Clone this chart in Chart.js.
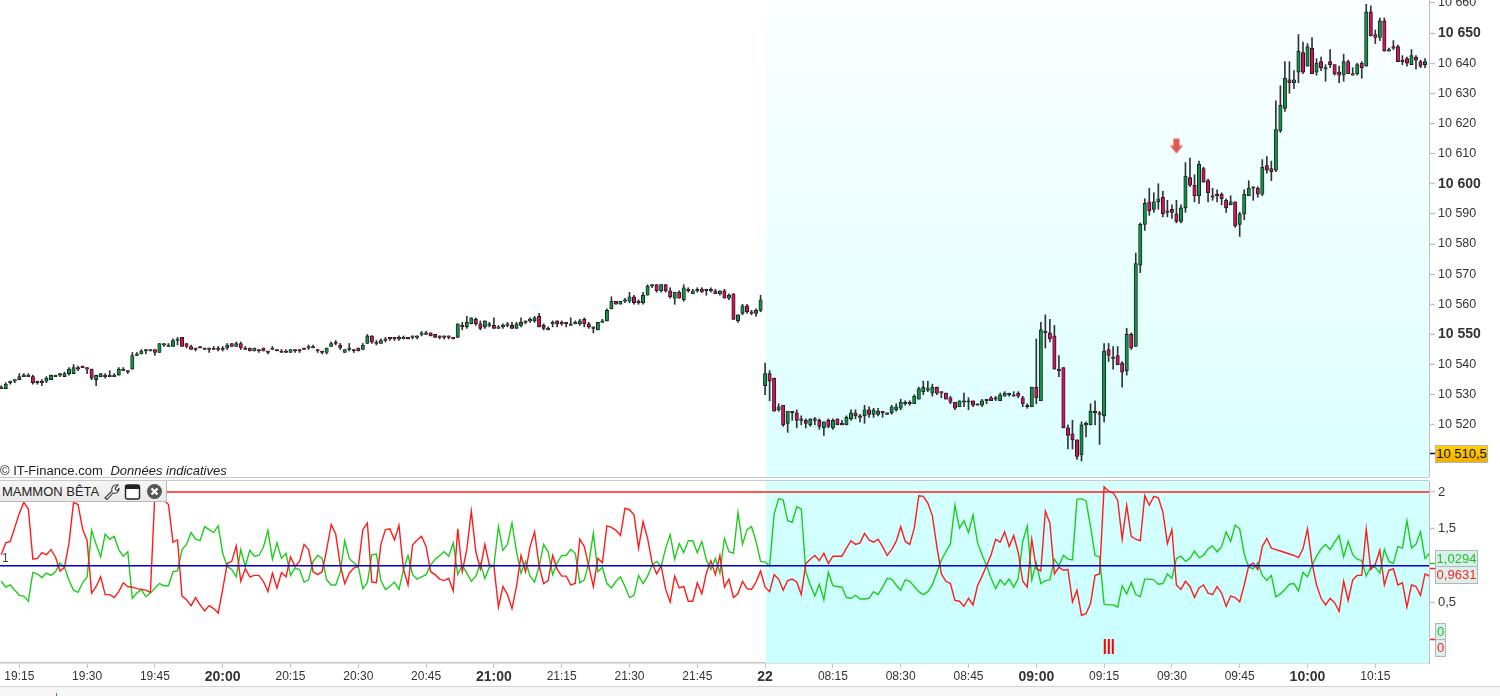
<!DOCTYPE html>
<html>
<head>
<meta charset="utf-8">
<title>MAMMON BÊTA</title>
<script src="https://cdn.jsdelivr.net/npm/chart.js@4"></script>
<style>
  html, body { margin: 0; padding: 0; background: #fff; overflow: hidden; }
  body { width: 1500px; height: 696px; position: relative; font-family: "Liberation Sans", Arial, sans-serif; color: #222; }
  canvas { position: absolute; left: 0; display: block; }
  #prixCanvas { top: 0; }
  #betaCanvas { top: 481px; }
  .abs { position: absolute; white-space: nowrap; }
  .rule { position: absolute; left: 0; width: 1429px; height: 1px; background: #c9c9c9; }
  #source { left: 0; top: 463px; font-size: 13px; line-height: 15px; color: #222; }
  #source i { margin-left: 4px; }
  #panneau { left: 0; top: 481px; width: 164px; height: 20px; background: linear-gradient(#f6f6f6, #e9e9e9); border-right: 1px solid #b9b9b9; border-bottom: 1px solid #b9b9b9; font-size: 13px; line-height: 21px; padding-left: 2px; box-sizing: content-box; }
  #panneau svg { position: absolute; top: 2px; }
  #un { left: 2px; top: 551px; font-size: 12px; color: #444; }
  .boite { position: absolute; box-sizing: border-box; border: 1px solid #b5b5b5; background: #d9efec; font-size: 13px; text-align: center; }
  #dernier { left: 1435px; top: 445px; width: 53px; height: 18px; line-height: 16px; background: linear-gradient(#ffd000, #f2ae00); color: #111; font-size: 13px; }
  #vert1 { left: 1435px; top: 550px; width: 43px; height: 17px; line-height: 15px; color: #1fbf1f; }
  #rouge1 { left: 1435px; top: 566px; width: 43px; height: 18px; line-height: 16px; color: #f22; }
  #vert0 { left: 1435px; top: 623px; width: 11px; height: 17px; line-height: 15px; color: #1fbf1f; }
  #rouge0 { left: 1435px; top: 639px; width: 11px; height: 18px; line-height: 16px; color: #f22; }
  #pied { position: absolute; left: 0; top: 686px; width: 1500px; height: 10px; background: #f7f7f7; border-top: 1px solid #cfcfcf; box-sizing: border-box; }
  #pied div { position: absolute; left: 56px; top: 6px; width: 1px; height: 3px; background: #2a2; }
</style>
</head>
<body>
<canvas id="prixCanvas" width="1500" height="477"></canvas>
<div class="rule" style="top:477px"></div>
<div class="rule" style="top:480px"></div>
<canvas id="betaCanvas" width="1500" height="205"></canvas>
<div id="pied"><div></div></div>

<div id="source" class="abs">© IT-Finance.com <i>Données indicatives</i></div>
<div id="panneau" class="abs">MAMMON BÊTA
  <svg style="left:103px" width="17" height="17" viewBox="0 0 17 17"><path d="M2 15 L9 8 C8 4 11 1 15 2 L12 5 L13 7 L15 7.5 L16 5 C16.5 9 13 11 10 10 L4 16.5 Z" fill="#fff" stroke="#333" stroke-width="1.1"/></svg>
  <svg style="left:124px" width="17" height="17" viewBox="0 0 17 17"><rect x="1.5" y="2" width="14" height="14" rx="2" fill="#fff" stroke="#222" stroke-width="1.4"/><rect x="1.5" y="2" width="14" height="4" fill="#222"/></svg>
  <svg style="left:146px" width="17" height="17" viewBox="0 0 17 17"><circle cx="8.5" cy="8.5" r="7.5" fill="#555"/><path d="M5.5 5.5 L11.5 11.5 M11.5 5.5 L5.5 11.5" stroke="#fff" stroke-width="2.4"/></svg>
</div>
<div id="un" class="abs">1</div>
<div id="dernier" class="boite">10 510,5</div>
<div id="vert1" class="boite">1,0294</div>
<div id="rouge1" class="boite">0,9631</div>
<div id="vert0" class="boite">0</div>
<div id="rouge0" class="boite">0</div>

<script>
// ---- DATOS ----
// una vela por minuto: el indice 0 es la vela de las 19:15
const primeraVela = -4;
const inicioSesion = 165.2;

const opens = [
10532,10532,10534,10534.5,10535,10536,10536,10536,10534.5,10534.5,
10534.5,10535,10536,10536.5,10536,10537,10537,10539,10539.5,10539,
10538.5,10535,10536,10536.5,10536,10536,10536.5,10538,10538,10538.5,
10543,10543.5,10544.5,10544.5,10545,10544,10546.5,10546,10546,10548,
10549,10547,10546,10545.5,10546,10545.5,10545.5,10545.5,10545.5,10545.5,
10545.5,10547,10546,10547,10545.5,10545.5,10544.5,10545,10545.5,10544.5,
10545,10545,10544.5,10544.5,10544,10545,10545,10545.5,10546,10545.5,
10545,10544.5,10544,10546,10547.5,10546.5,10544,10545,10545,10545.5,
10545,10547,10549.5,10547.5,10547,10548.5,10549,10549,10549,
10548.5,10549,10549,10549,10550,10550,10550.5,10550,10549.5,10549.5,
10549.5,10549,10549,10553,10552.5,10553.5,10555,10553.5,10552.5,10553,
10553,10552,10552.5,10553,10553,10552,10553,10554,10554.5,10554.5,
10556,10553,10551.5,10553.5,10554.5,10554,10554,10553,10553.5,10553.5,
10555,10553.5,10552.5,10551.5,10554,10554.5,10558.5,10561,10560,10561,
10561,10562.5,10561,10560.5,10563,10566,10566.5,10564.5,10566.5,10564.5,
10562,10564,10561.5,10565,10563.5,10564.5,10565,10565,10564.5,10564.5,
10563.5,10564.5,10562,10563.5,10554.5,10557,10559.5,10557.5,10557,10558,
10533,10537,10535.5,10525,10526.5,10520.5,10524,10524,10522,10521.5,
10520,10522,10521.5,10519,10521.5,10519,10522,10520.5,10520,10522,
10524,10523,10523,10525,10523.5,10523.5,10524.5,10524,10524,10525,
10525.5,10527,10527.5,10527,10528.5,10531,10531.5,10530.5,10532.5,10531,
10530.5,10529,10527.5,10526,10527.5,10527.5,10528,10527,10526.5,10528,
10529,10529,10528,10529.5,10530,10530,10530.5,10529,10526.5,10526,
10532.5,10528,10551,10550.5,10549.5,10538.5,10539,10519,10517,10515,
10510,10520,10520,10524.5,10524,10523,10545,10542.5,10543,
10540.5,10538,10550,10546,10573,10586.5,10594,10591.5,10594,10595.5,
10591,10591.5,10590,10587.5,10592,10602,10599.5,10596,10605,10601,
10596,10596.5,10596.5,10594.5,10593,10594,10586.5,10590,10596,10598.5,
10598.5,10596.5,10606,10605,10604.5,10617.5,10625,10634.5,10633.5,10637,
10643.5,10639,10645,10637,10640.5,10638,10640.5,10639.5,10637,10636,
10640.5,10636,10636.5,10640,10639,10657,10649.5,10648.5,10654,10644,
10645.5,10645.5,10641,10641.5,10639.5,10642,10640.5,10639.5
];
const closes = [
10532.5,10533.5,10534.5,10535,10536,10536.5,10536.5,10534,10534,10534,
10535.5,10536.5,10536.5,10537,10537,10538.5,10539,10538.5,10539,10538.5,
10535.5,10536.5,10537,10536,10536.5,10536.5,10538.5,10538.5,10537.5,10543,
10543.5,10544.5,10545,10545,10544,10547,10547,10546.5,10548,10548.5,
10546,10546,10545,10545,10545.5,10545,10545,10545,10545,10545,
10546.5,10546,10547,10545.5,10545,10544.5,10545.5,10544.5,10544.5,10544,
10545.5,10544.5,10544,10544,10545,10544.5,10544.5,10545,10545.5,10546,
10544.5,10544,10545.5,10547,10547,10545.5,10545,10545.5,10544.5,10544.5,
10546.5,10549.5,10547.5,10547,10548,10548,10548.5,10548.5,10548.5,
10549,10548.5,10549.5,10549.5,10550.5,10550.5,10549.5,10549,10549,10549,
10549,10548.5,10553.5,10552.5,10554,10555.5,10553.5,10552,10554.5,10553.5,
10552,10552.5,10553,10553.5,10552,10553.5,10554,10554.5,10555,10555.5,
10552.5,10552,10552,10554,10553.5,10553.5,10553.5,10553.5,10554,10554.5,
10553.5,10552.5,10552,10554,10554.5,10558,10561,10560,10561,10561.5,
10562.5,10560.5,10560.5,10563,10566,10566.5,10564.5,10566.5,10564.5,10562.5,
10564,10562,10565.5,10564.5,10564.5,10565,10564,10564.5,10565,10563.5,
10564.5,10562,10563,10555,10556.5,10559.5,10557.5,10557,10558,10561.5,
10537,10534.5,10524.5,10526,10520,10524.5,10524.5,10521.5,10521.5,10520.5,
10522,10521.5,10519.5,10521,10519.5,10521.5,10520,10520,10522.5,10524,
10523,10522.5,10525,10523.5,10525,10524.5,10524,10523.5,10526,10526,
10527.5,10527.5,10527,10529.5,10532,10532.5,10532,10532.5,10530.5,10530.5,
10528.5,10527.5,10525.5,10528,10528,10528,10526.5,10526.5,10528,10528.5,
10528,10528.5,10530,10530.5,10530.5,10529.5,10529.5,10527,10526,10532.5,
10529,10551.5,10550.5,10548.5,10538.5,10538,10519,10516.5,10515,10509.5,
10520,10520.5,10524.5,10524,10523.5,10544.5,10543,10542,10540,
10537.5,10550,10545.5,10573.5,10586.5,10593.5,10591,10594,10595,10590,
10590.5,10590.5,10587.5,10592,10602.5,10599.5,10596,10606.5,10600.5,10597,
10595.5,10596,10595,10592,10594,10586,10590,10596.5,10598.5,10599,
10596.5,10605.5,10604.5,10604,10618,10626,10635,10633.5,10634.5,10644,
10637,10645.5,10636.5,10640,10638.5,10638.5,10639.5,10636.5,10636,10640.5,
10636.5,10636.5,10639.5,10638.5,10657,10649,10648.5,10654,10644,10644.5,
10645,10640.5,10640.5,10640,10642.5,10641,10639,10640.5
];
const highs = [
10533,10534,10534.5,10535,10537,10537,10537,10536.5,10534.5,10535,
10536,10536.5,10536.5,10537,10537.5,10539,10540,10539.5,10539.5,10539,
10538.5,10536.5,10537,10537,10538,10537,10539,10539,10538,10544,
10544,10545,10545,10545,10545,10547,10547,10547,10548.5,10549,
10549,10547,10546.5,10545.5,10546,10545.5,10545.5,10546,10546,10546,
10547,10547,10547.5,10547.5,10546,10545.5,10545.5,10545,10545.5,10544.5,
10546,10545,10545,10545,10545,10545,10545,10545.5,10546.5,10546.5,
10545,10544.5,10545.5,10547.5,10548,10547,10545,10547,10545,10545.5,
10547,10550,10549.5,10548,10548.5,10549,10549,10549,10549.5,
10549.5,10549,10549.5,10549.5,10551,10551,10550.5,10550,10549.5,10549.5,
10549.5,10549,10553.5,10554,10556,10555.5,10555.5,10554.5,10554.5,10554,
10555.5,10553,10553.5,10554,10554,10554,10555.5,10554.5,10555.5,10556,
10557,10553.5,10552.5,10554.5,10554.5,10554.5,10554,10555.5,10554.5,10555,
10555.5,10554,10552.5,10554,10555,10558.5,10562.5,10561,10561,10562,
10564,10563,10561.5,10564,10566.5,10566.5,10566.5,10566.5,10566.5,10565.5,
10564,10564.5,10566.5,10565.5,10565,10565.5,10565.5,10565,10565.5,10565,
10564.5,10565,10563.5,10563.5,10556.5,10560,10560,10558,10558.5,10563,
10540.5,10538,10535.5,10527,10526.5,10524.5,10524.5,10525,10523,10522,
10522,10522.5,10522,10521,10522,10522,10522,10521.5,10523,10525,
10525,10523.5,10526.5,10526,10525.5,10525.5,10524.5,10524,10526.5,10527,
10528.5,10528,10528,10530,10532.5,10534.5,10534.5,10533.5,10532.5,10531,
10530.5,10529.5,10527.5,10528,10530.5,10529,10528,10527,10528.5,10528.5,
10529.5,10529.5,10530.5,10531,10530.5,10531,10531,10529.5,10527,10532.5,
10548.5,10554,10556.5,10555,10553,10543,10539,10520,10521.5,10515,
10521,10521,10527,10528,10524.5,10547,10547,10546,10546,
10541,10552,10550.5,10577,10587,10595,10598.5,10597,10600,10597.5,
10594.5,10593,10594.5,10593,10607,10608.5,10603,10607.5,10605.5,10601.5,
10598.5,10598,10597,10595,10596,10594,10590.5,10598,10601,10599,
10599,10608,10609,10607.5,10627.5,10632.5,10640.5,10640.5,10637.5,10649.5,
10647,10646.5,10648.5,10641.5,10642,10639.5,10644.5,10639.5,10639,10643,
10641,10638.5,10640,10640.5,10659.5,10659,10651,10655,10655,10645,
10647.5,10646,10642.5,10642,10644.5,10642.5,10641,10641.5
];
const lows = [
10532,10532,10533.5,10534,10535,10536,10536,10533.5,10533.5,10533,
10534,10535,10536,10536,10536,10536.5,10537,10538,10539,10537,
10535,10533,10536,10535.5,10536,10536,10536.5,10538,10537,10538.5,
10543,10543.5,10543.5,10544.5,10543,10544,10546,10546,10546,10546.5,
10546,10545.5,10545,10544.5,10545.5,10545,10544,10545,10544.5,10544.5,
10545,10546,10546,10545,10545,10544.5,10544.5,10544,10544.5,10543.5,
10545,10544.5,10544,10544,10544,10544,10544,10545,10545,10545.5,
10544,10543.5,10543.5,10546,10546.5,10545,10544,10544.5,10544,10544.5,
10545,10547,10547,10546.5,10547,10547.5,10548,10548,10548,
10548.5,10548.5,10548.5,10548.5,10549.5,10550,10549.5,10549,10548.5,10548.5,
10548.5,10548.5,10549,10551.5,10552,10553.5,10553,10551.5,10552,10552.5,
10552,10552,10552,10552.5,10552,10552,10552.5,10553.5,10554,10554,
10552.5,10551.5,10551.5,10552.5,10552.5,10553,10552.5,10553,10553.5,10553,
10552.5,10552,10550.5,10551.5,10554,10554.5,10558.5,10560,10560,10560.5,
10560.5,10560,10560,10560,10563,10565.5,10564,10564,10564,10562,
10560,10562,10561,10564,10563.5,10564,10564,10563,10564,10563.5,
10563,10562,10561.5,10555,10554,10556.5,10557,10556.5,10556,10557.5,
10530,10528,10524.5,10524.5,10519.5,10517.5,10521.5,10519,10520,10519,
10519.5,10520,10518.5,10516.5,10519,10518.5,10520,10520,10520,10521.5,
10522,10521,10520.5,10522.5,10522.5,10523,10522.5,10523.5,10523.5,10524.5,
10525,10526.5,10526.5,10527,10528.5,10530,10531,10529.5,10530,10529,
10528.5,10527,10525,10526,10526,10525,10526,10526.5,10526,10527,
10528,10528,10528,10529.5,10529.5,10529.5,10529,10526,10525.5,10526,
10527,10528,10545.5,10547.5,10538.5,10536,10519,10512,10512,10508.5,
10508,10516,10520,10520,10513.5,10521,10541,10538.5,10540,
10532.5,10536.5,10545,10546,10570.5,10584.5,10589.5,10590.5,10591.5,10589,
10589,10588.5,10587,10587,10590.5,10599,10594,10593.5,10600.5,10594,
10594.5,10594,10593,10590.5,10593,10585.5,10582.5,10588,10596,10594.5,
10595.5,10596,10603.5,10601,10604,10617,10624,10630,10631.5,10633.5,
10636.5,10639,10636.5,10636,10637.5,10634,10638.5,10636,10633.5,10634,
10636.5,10636,10636,10635,10639,10649,10646.5,10647.5,10644,10644,
10644.5,10640.5,10639.5,10639,10639.5,10638,10638.5,10638.5
];

// MAMMON BÊTA, un punto por vela
const betaVert = [
.79,.71,.74,.67,.60,.59,.52,.91,.89,.84,
.90,.87,.92,1.04,.98,.80,.67,.64,.77,.85,
1.48,1.29,1.12,1.43,1.36,1.40,1.22,1.13,1.19,.56,
.63,.68,.58,.63,.70,.76,.73,.73,.92,.93,
1.22,1.29,1.45,1.36,1.34,1.53,1.49,1.45,1.54,1.17,
.99,.95,.85,1.22,.99,1.21,1.13,1.14,1.25,1.48,
1.09,1.31,1.10,1.17,.87,.97,.95,.78,.81,1.06,
1.14,1.10,.81,.74,.74,.91,1.34,1.10,1.04,.99,
.69,.77,1.15,1.16,.80,.68,.72,.78,.68,
.95,1.14,.88,.82,.85,.88,1.01,1.09,1.14,1.19,
1.13,1.31,.88,1.01,.90,.79,.86,1.03,.83,.98,
1.00,1.53,1.21,1.29,1.58,1.19,.90,1.06,.86,.78,
.99,1.29,1.19,.88,1.04,1.14,1.14,1.22,1.17,.77,
.81,1.04,1.44,.92,.98,.76,.70,.79,.85,.72,
.57,.60,.87,.76,.86,1.01,1.06,.99,1.24,1.42,
1.09,1.30,1.18,1.34,1.34,1.18,1.33,1.08,.95,1.10,
.90,1.37,1.19,1.17,1.72,1.29,1.49,1.53,1.33,1.06,
1.05,1.00,1.70,1.91,1.89,1.61,1.59,1.80,1.77,.92,
.74,.59,.75,.54,.91,.73,.72,.71,.57,.56,
.60,.55,.55,.56,.65,.61,.71,.83,.82,.74,
.67,.81,.79,.72,.65,.61,.65,.74,.91,1.08,
1.19,1.30,1.82,1.51,1.61,1.45,1.69,1.31,1.15,1.00,
.83,.69,.81,.74,.82,.71,.83,1.33,1.54,.81,
1.04,.76,.80,.81,1.09,1.00,1.14,1.09,1.08,1.90,
1.91,1.88,1.53,1.14,1.12,.48,.47,.47,.44,.73,
.62,.77,.61,
.58,.82,.82,.81,.75,.76,.89,.83,1.10,1.13,
1.06,1.10,1.20,1.11,1.14,1.23,1.27,1.19,1.26,1.46,
1.33,1.55,1.50,1.16,.98,.96,1.04,.87,.80,.87,
.58,.62,.68,.75,.76,.66,.91,.85,1.00,1.13,
1.23,1.29,1.22,1.32,1.41,1.12,1.33,1.15,1.09,1.07,
.86,.99,.98,.90,1.22,1.06,1.03,1.26,1.24,1.61,
1.24,1.29,1.46,1.10,1.17
];
const betaRouge = [
1.15,1.31,1.33,1.52,1.71,1.86,1.77,1.09,1.10,1.18,
1.15,1.22,1.12,.93,.98,1.31,1.86,1.83,1.50,1.34,
.63,.72,.85,.61,.61,.57,.65,.77,.72,.71,
.69,.68,.67,.64,1.98,1.94,1.89,1.83,1.32,1.35,
.59,.54,.46,.57,.47,.39,.46,.42,.36,.68,
1.03,1.06,1.27,.79,.96,.85,.87,.87,.79,.65,
.90,.70,.91,.85,1.12,.99,1.06,1.29,1.22,.92,
.88,.92,1.22,1.56,1.43,1.01,.76,.90,.97,.99,
1.49,1.58,.78,.77,1.29,1.49,1.50,1.35,1.55,
.95,.74,1.28,1.35,1.40,1.26,.92,.88,.82,.80,
.83,.66,1.50,.92,1.22,1.74,1.19,.96,1.29,1.01,
1.00,.44,.72,.61,.42,.72,1.14,.92,1.26,1.46,
1.00,.76,.80,1.14,.95,.86,.86,.74,.76,1.36,
1.26,.99,.72,1.10,1.04,1.54,1.52,1.48,1.41,1.78,
1.76,1.69,1.24,1.60,1.37,1.04,.89,1.00,.68,.51,
.86,.70,.72,.52,.52,.77,.62,.90,1.07,.88,
1.14,.71,.82,.57,.62,.79,.69,.68,.78,.93,
.71,.65,.88,.82,.67,.80,.82,.78,.61,1.03,
1.09,1.14,1.07,1.17,1.03,1.13,1.13,1.13,1.24,1.34,
1.29,1.31,1.44,1.35,1.32,1.36,1.26,1.14,1.22,1.33,
1.53,1.33,1.29,1.51,1.95,1.94,1.85,1.68,1.26,.89,
.79,.76,.53,.52,.45,.56,.47,.73,.86,1.00,
1.15,1.36,1.32,1.46,1.26,1.41,1.18,.79,.71,1.36,
.96,.93,1.74,1.58,.89,.98,.94,.95,.51,.67,
.33,.35,.49,.87,.89,2.07,2.01,1.99,1.89,1.36,
1.82,1.40,1.36,
1.34,1.95,1.82,1.94,1.92,1.73,1.30,1.49,.74,.68,
.79,.72,.57,.70,.74,.63,.61,.72,.63,.45,
.59,.57,.51,.74,1.00,1.04,.95,1.26,1.37,1.24,
1.22,1.20,1.18,1.16,1.14,1.11,1.23,1.50,1.04,.74,
.56,.47,.56,.50,.38,.79,.53,.81,.87,.87,
1.50,.95,1.02,1.21,.74,.94,.96,.74,.77,.44,
.74,.72,.60,.89,.86
];

// niveles fijos del indicador
const niveauHaut = 2;
const niveauMilieu = 1;

// etiquetas de los ejes
const prixTicks = [10660,10650,10640,10630,10620,10610,10600,10590,10580,10570,10560,10550,10540,10530,10520];
const prixGras = [10650,10600,10550];
const dernierPrix = 10510.5;
const betaTicks = [2,1.5,0.5,0];
const dernierVert = 1.0294;
const dernierRouge = 0.9631;
const heuresVelas = [0,15,30,45,60,75,90,105,120,135,150,165,180,195,210,225,240,255,270,285,300];
const heuresTextos = ['19:15','19:30','19:45','20:00','20:15','20:30','20:45','21:00','21:15','21:30','21:45','22','08:15','08:30','08:45','09:00','09:15','09:30','09:45','10:00','10:15'];
const heuresGras = ['20:00','21:00','22','09:00','10:00'];

// flecha de senal y marca III
const flechaVela = [256];
const flechaPrix = [10612.5];
const marcaTexto = 'III';
const marcaVela = 240.8;
const marcaBeta = -0.107;

// ---- CONSTRUCCION ----
const xMin = -4.27, xMax = 311.88;
const velaX = i => i + primeraVela;
const fmtPrix = v => String(v).replace(/(\d\d)(\d{3})/, '$1 $2');

// fondo de la sesion del dia, desde la vela de inicio hasta el eje
function fondoSesion(colorArriba, colorAbajo) {
    return {
        id: 'fondoSesion',
        beforeDatasetsDraw(chart) {
            const { ctx, chartArea: a, scales } = chart;
            const x0 = scales.x.getPixelForValue(inicioSesion);
            const g = ctx.createLinearGradient(0, a.top, 0, a.bottom);
            g.addColorStop(0, colorArriba);
            g.addColorStop(1, colorAbajo);
            ctx.save();
            ctx.fillStyle = g;
            ctx.fillRect(x0, a.top, a.right - x0, a.bottom - a.top);
            ctx.restore();
        }
    };
}

// ancho fijo del eje para que las dos zonas queden alineadas
function ejeFijo(scale) {
    scale.width = 71;
    scale.paddingTop = 0;
    scale.paddingBottom = 0;
}

function xBase() {
    return {
        type: 'linear',
        offset: false,
        min: xMin,
        max: xMax,
        grid: { display: false }
    };
}

// dibujo de la flecha roja
function crearFlecha() {
    const c = document.createElement('canvas');
    c.width = 15; c.height = 17;
    const g = c.getContext('2d');
    g.fillStyle = '#dc5a52';
    g.strokeStyle = '#f0a7a0';
    g.lineWidth = 1;
    g.beginPath();
    g.moveTo(4.5, 1); g.lineTo(10.5, 1); g.lineTo(10.5, 8); g.lineTo(14, 8);
    g.lineTo(7.5, 16); g.lineTo(1, 8); g.lineTo(4.5, 8);
    g.closePath();
    g.fill();
    g.stroke();
    return c;
}

// === Grafico 1: velas ===
new Chart(document.getElementById('prixCanvas'), {
    type: 'bar',
    plugins: [fondoSesion('#fbffff', '#dcffff')],
    data: {
        datasets: [
            {
                type: 'line',
                data: flechaVela.map((v, i) => ({ x: v, y: flechaPrix[i] })),
                showLine: false,
                pointStyle: crearFlecha(),
                pointRadius: 8
            },
            {
                data: opens.map((o, i) => ({ x: velaX(i), y: [o, closes[i]] })),
                grouped: false,
                barThickness: 3.4,
                borderWidth: 0.9,
                borderSkipped: false,
                borderColor: '#1a1a1a',
                backgroundColor: opens.map((o, i) => closes[i] >= o ? '#0f9447' : '#d5105f')
            },
            {
                data: lows.map((l, i) => ({ x: velaX(i), y: [l, highs[i]] })),
                grouped: false,
                barThickness: 1,
                backgroundColor: '#333',
                borderWidth: 0
            }
        ]
    },
    options: {
        responsive: false,
        animation: false,
        events: [],
        layout: { padding: 0, autoPadding: false },
        plugins: { legend: { display: false }, tooltip: { enabled: false } },
        scales: {
            x: Object.assign(xBase(), { display: false }),
            y: {
                position: 'right',
                min: 10502.7,
                max: 10660.95,
                afterBuildTicks: s => { s.ticks = prixTicks.concat(dernierPrix).map(v => ({ value: v })); },
                afterFit: ejeFijo,
                border: { color: '#bdbdbd', width: 2 },
                grid: {
                    drawOnChartArea: false,
                    tickLength: 6,
                    tickWidth: 1.5,
                    tickColor: c => c.tick && c.tick.value === dernierPrix ? '#111' : '#c4c4c4'
                },
                ticks: {
                    autoSkip: false,
                    padding: 3,
                    color: '#333',
                    font: c => prixGras.includes(c.tick && c.tick.value)
                        ? { family: 'Liberation Sans', size: 14, weight: 'bold' }
                        : { family: 'Liberation Sans', size: 12.5 },
                    callback: v => v === dernierPrix ? '' : fmtPrix(v)
                }
            }
        }
    }
});

// === Grafico 2: MAMMON BETA ===
const marcaIII = {
    id: 'marcaIII',
    afterDatasetsDraw(chart) {
        const { ctx, scales } = chart;
        ctx.save();
        ctx.fillStyle = '#f00';
        ctx.font = '22px "Liberation Sans"';
        ctx.letterSpacing = '-2.2px';
        ctx.textAlign = 'center';
        ctx.textBaseline = 'middle';
        ctx.fillText(marcaTexto, scales.x.getPixelForValue(marcaVela), scales.y.getPixelForValue(marcaBeta));
        ctx.restore();
    }
};

new Chart(document.getElementById('betaCanvas'), {
    type: 'line',
    plugins: [fondoSesion('#d5ffff', '#c9ffff'), marcaIII],
    data: {
        datasets: [
            { data: [{ x: xMin, y: niveauMilieu }, { x: xMax, y: niveauMilieu }], borderColor: '#0000c8', borderWidth: 1.5, pointRadius: 0 },
            { data: betaRouge.map((v, i) => ({ x: velaX(i), y: v })), borderColor: '#ff1c1c', borderWidth: 1.4, pointRadius: 0, tension: 0 },
            { data: betaVert.map((v, i) => ({ x: velaX(i), y: v })), borderColor: '#1ecc1e', borderWidth: 1.4, pointRadius: 0, tension: 0 },
            { data: [{ x: xMin, y: niveauHaut }, { x: xMax, y: niveauHaut }], borderColor: '#ff1c1c', borderWidth: 1.5, pointRadius: 0 }
        ]
    },
    options: {
        responsive: false,
        animation: false,
        events: [],
        layout: { padding: 0, autoPadding: false },
        plugins: { legend: { display: false }, tooltip: { enabled: false } },
        scales: {
            x: Object.assign(xBase(), {
                position: 'bottom',
                afterBuildTicks: s => { s.ticks = heuresVelas.map(v => ({ value: v })); },
                afterFit: s => { s.height = 23; s.paddingLeft = 0; s.paddingRight = 0; },
                border: { color: '#c4c4c4', width: 1.5 },
                grid: { display: true, drawOnChartArea: false, tickLength: 5, tickColor: '#c4c4c4' },
                ticks: {
                    autoSkip: false,
                    maxRotation: 0,
                    padding: 1,
                    color: '#333',
                    font: c => heuresGras.includes(heuresTextos[heuresVelas.indexOf(c.tick && c.tick.value)])
                        ? { family: 'Liberation Sans', size: 14, weight: 'bold' }
                        : { family: 'Liberation Sans', size: 12 },
                    callback: v => heuresTextos[heuresVelas.indexOf(v)]
                }
            }),
            y: {
                position: 'right',
                min: -0.317,
                max: 2.149,
                afterBuildTicks: s => { s.ticks = betaTicks.concat(dernierVert, dernierRouge).map(v => ({ value: v })); },
                afterFit: ejeFijo,
                border: { color: '#bdbdbd', width: 2 },
                grid: {
                    drawOnChartArea: false,
                    tickLength: 6,
                    tickWidth: 1.5,
                    tickColor: c => {
                        const v = c.tick && c.tick.value;
                        if (v === dernierVert) return '#1ecc1e';
                        if (v === dernierRouge || v === 0) return '#ff1c1c';
                        return '#c4c4c4';
                    }
                },
                ticks: {
                    autoSkip: false,
                    padding: 3,
                    color: '#333',
                    font: { family: 'Liberation Sans', size: 13 },
                    callback: v => (v === 0 || v === dernierVert || v === dernierRouge) ? '' : String(v).replace('.', ',')
                }
            }
        }
    }
});
</script>
</body>
</html>
